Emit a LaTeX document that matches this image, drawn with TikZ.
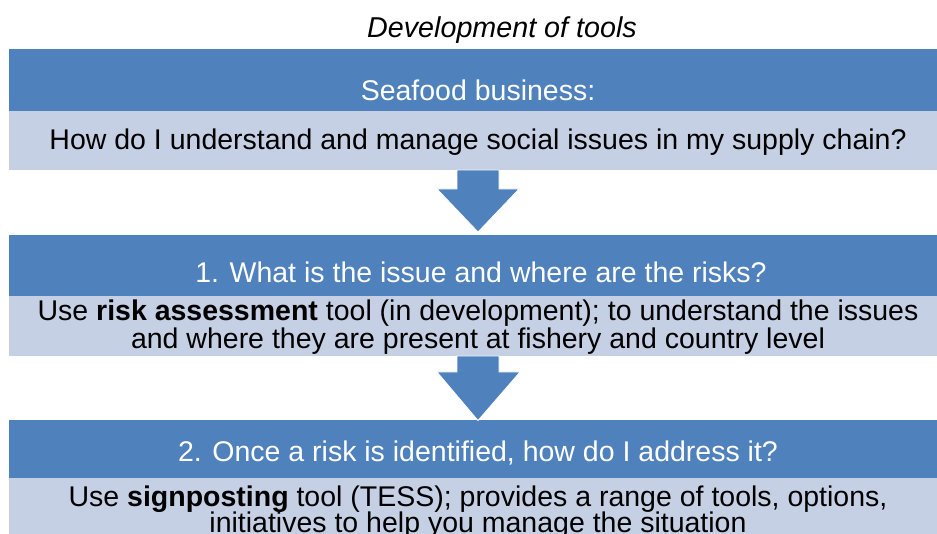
\documentclass[tikz,border=0pt]{standalone}
\usepackage{fontspec}
\setmainfont{Liberation Sans}
\definecolor{hdr}{HTML}{4F81BD}
\definecolor{bdy}{HTML}{C5D0E4}
\tikzset{
  hdrbox/.style={fill=hdr, draw=none, minimum width=941pt, anchor=north west, inner sep=0pt},
  bdybox/.style={fill=bdy, draw=none, minimum width=941pt, anchor=north west, inner sep=0pt},
  hdrtxt/.style={text=white, font=\fontsize{28.5}{30}\selectfont, anchor=base, inner sep=0pt},
  bdytxt/.style={text=black, font=\fontsize{28.5}{30}\selectfont, anchor=base, inner sep=0pt},
  downarrow/.style={fill=hdr, draw=white, line width=0.8pt}
}
\begin{document}
\begin{tikzpicture}[x=1pt,y=-1pt]
\useasboundingbox (0,0) rectangle (937,534);
\clip (0,0) rectangle (937,534);
% title
\node[text=black, font=\fontsize{28.7}{30}\selectfont\itshape, anchor=base, inner sep=0pt] (title) at (502,38) {Development of tools};
% box 1
\node[hdrbox, minimum height=62pt] (h1) at (9,49) {};
\node[bdybox, minimum height=59pt] (b1) at (9,111) {};
\node[hdrtxt] (h1t) at (478,101) {Seafood business:};
\node[bdytxt] (b1t) at (478,150) {How do I understand and manage social issues in my supply chain?};
% box 2
\node[hdrbox, minimum height=61pt] (h2) at (9,235) {};
\node[bdybox, minimum height=60pt] (b2) at (9,296) {};
\node[hdrtxt] (h2t) at (481,283) {1. What is the issue and where are the risks?};
\node[bdytxt] (b2t1) at (478,321) {Use \textbf{risk assessment} tool (in development); to understand the issues};
\node[bdytxt] (b2t2) at (478,349) {and where they are present at fishery and country level};
% box 3
\node[hdrbox, minimum height=58pt] (h3) at (9,420) {};
\node[bdybox, minimum height=60pt] (b3) at (9,478) {};
\node[hdrtxt] (h3t) at (478,461) {2. Once a risk is identified, how do I address it?};
\node[bdytxt] (b3t1) at (478,506) {Use \textbf{signposting} tool (TESS); provides a range of tools, options,};
\node[bdytxt] (b3t2) at (478,532) {initiatives to help you manage the situation};
% arrows
\draw[downarrow] (457,170) -- (499,170) -- (499,189) -- (519,189) -- (478,232) -- (437,189) -- (457,189) -- cycle;
\draw[downarrow] (457,356) -- (499,356) -- (499,372) -- (520,372) -- (478,420.5) -- (437,372) -- (457,372) -- cycle;
\end{tikzpicture}
\end{document}
